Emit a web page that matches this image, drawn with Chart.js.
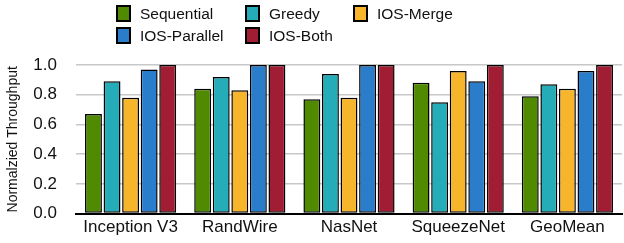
<!DOCTYPE html>
<html>
<head>
<meta charset="utf-8">
<script src="https://cdn.jsdelivr.net/npm/chart.js@4"></script>
<style>
  body { margin: 0; background: #fff; }
  #wrap { position: relative; width: 624px; height: 243px; }
  #legende {
    position: absolute; left: 116px; top: 4px;
    display: grid; grid-template-columns: 129px 108px auto;
    row-gap: 3px;
    font-family: "Liberation Sans", Arial, sans-serif; font-size: 15.5px; color: #111;
  }
  .eintrag { display: flex; align-items: center; height: 19px; }
  .kasten { width: 11px; height: 13px; border: 2px solid #000; margin-right: 9px; }
</style>
</head>
<body>
<div id="wrap">
  <canvas id="chart"></canvas>
  <div id="legende"></div>
</div>
<script>
const modelle = ["Inception V3", "RandWire", "NasNet", "SqueezeNet", "GeoMean"];
const sequential  = [0.67, 0.84, 0.77, 0.88, 0.79];
const greedy      = [0.89, 0.92, 0.94, 0.75, 0.87];
const iosMerge    = [0.78, 0.83, 0.78, 0.96, 0.84];
const iosParallel = [0.97, 1.00, 1.00, 0.89, 0.96];
const iosBoth     = [1.00, 1.00, 1.00, 1.00, 1.00];
const yTicks = [0.0, 0.2, 0.4, 0.6, 0.8, 1.0];

const serien = [
  ["Sequential", sequential, "#4f8a00"],
  ["Greedy", greedy, "#24adb9"],
  ["IOS-Merge", iosMerge, "#f7b52c"],
  ["IOS-Parallel", iosParallel, "#2a7dcb"],
  ["IOS-Both", iosBoth, "#a11d33"]
];

const schrift = "'Liberation Sans', Arial, sans-serif";

const chart = new Chart(document.getElementById("chart"), {
  type: 'bar',
  data: {
    labels: modelle,
    datasets: serien.map(([name, werte, farbe]) => ({
      label: name,
      data: werte,
      backgroundColor: farbe,
      borderColor: "#000",
      borderWidth: 1.5,
      borderSkipped: false,
      barPercentage: 0.91,
      categoryPercentage: 0.85
    }))
  },
  options: {
    responsive: true,
    maintainAspectRatio: false,
    animation: false,
    layout: { padding: { top: 65, right: 2, left: 0, bottom: 1 } },
    plugins: { legend: { display: false }, tooltip: { enabled: false } },
    scales: {
      x: {
        grid: { display: false, drawTicks: false },
        border: { color: "#000", width: 2 },
        ticks: { color: "#111", font: { family: schrift, size: 17 }, padding: 4 }
      },
      y: {
        min: 0, max: 1,
        afterBuildTicks: s => { s.ticks = yTicks.map(v => ({ value: v })); },
        afterFit: s => { s.width = 76; },
        grid: { color: "#c8c8c8", lineWidth: 1.5, drawTicks: false },
        border: { display: false },
        ticks: {
          color: "#111", font: { family: schrift, size: 17 }, padding: 19,
          callback: v => v.toFixed(1)
        },
        title: {
          display: true, text: "Normalzied Throughput", color: "#111",
          font: { family: schrift, size: 14 }, padding: { top: 5, bottom: 0 }
        }
      }
    }
  }
});

// Legende als HTML, drei Spalten
const legende = document.getElementById("legende");
chart.data.datasets.forEach(ds => {
  const e = document.createElement("div");
  e.className = "eintrag";
  e.innerHTML = `<span class="kasten" style="background:${ds.backgroundColor}"></span>${ds.label}`;
  legende.appendChild(e);
});
</script>
</body>
</html>
